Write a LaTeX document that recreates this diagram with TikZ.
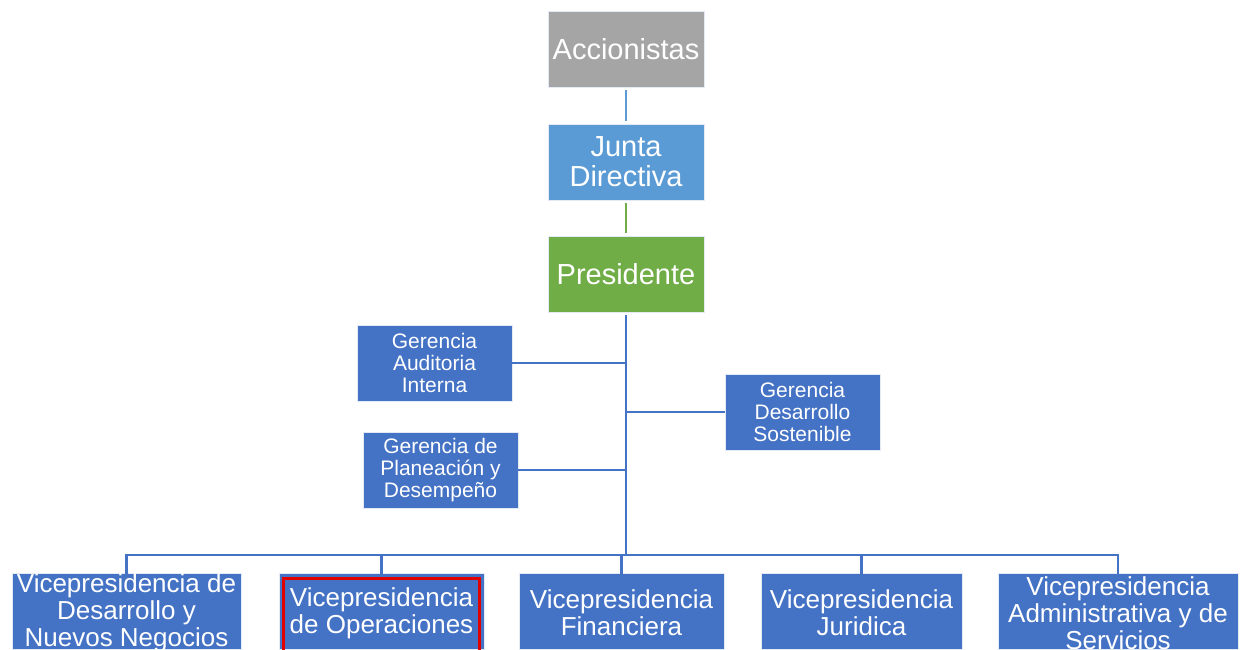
\documentclass[tikz,border=0pt]{standalone}
\usepackage{fontspec}
\setmainfont{Liberation Sans}
\definecolor{gbox}{HTML}{A5A5A5}
\definecolor{lbox}{HTML}{5B9BD5}
\definecolor{grbox}{HTML}{70AD47}
\definecolor{bbox}{HTML}{4472C4}
\definecolor{redb}{HTML}{E00000}
\begin{document}
\begin{tikzpicture}[x=1pt,y=-1pt,
  box/.style={rectangle, draw=white!85!bbox, line width=0.6pt, text=white, align=center, inner sep=0pt, minimum height=76pt},
  topbox/.style={box, minimum width=156pt, font=\fontsize{29}{30}\selectfont},
  gerbox/.style={box, fill=bbox, minimum width=155pt, font=\fontsize{21}{22}\selectfont},
  vpbox/.style={box, fill=bbox, font=\fontsize{26}{27}\selectfont},
  vptext/.style={text=white, align=center, inner sep=0pt, font=\fontsize{26}{27}\selectfont},
  conn/.style={line width=2.2pt, draw=bbox},
]
\useasboundingbox (0,0) rectangle (1250,650);
\fill[white] (0,0) rectangle (1250,650);

% top chain
\node[topbox, fill=gbox] (acc) at (626,49) {Accionistas};
\node[topbox, fill=lbox] (jd) at (626,162) {Junta\\Directiva};
\node[topbox, fill=grbox] (pres) at (626,274) {Presidente};

% gerencias
\node[gerbox] (ga) at (434.5,363) {Gerencia\\Auditoria\\Interna};
\node[gerbox] (gd) at (802.5,412) {Gerencia\\Desarrollo\\Sostenible};
\node[gerbox] (gp) at (440.5,470) {Gerencia de\\Planeación y\\Desempeño};

% vicepresidencias (boxes)
\node[vpbox, minimum width=229pt] (v1) at (126.5,611) {};
\node[vpbox, minimum width=205pt] (v2) at (381.5,611) {};
\node[vpbox, minimum width=205pt] (v3) at (621.5,611) {};
\node[vpbox, minimum width=201pt] (v4) at (861.5,611) {};
\node[vpbox, minimum width=240pt] (v5) at (1118,611) {};

% red highlight on v2
\draw[redb, line width=3pt] (283.5,578.5) rectangle (479.5,652);

% vicepresidencias (texts)
\node[vptext] (v1t) at (126.5,613) {Vicepresidencia de\\Desarrollo y\\Nuevos Negocios};
\node[vptext] (v2t) at (381.5,613) {Vicepresidencia\\de Operaciones};
\node[vptext] (v3t) at (621.5,613) {Vicepresidencia\\Financiera};
\node[vptext] (v4t) at (861.5,613) {Vicepresidencia\\Juridica};
\node[vptext] (v5t) at (1118,613) {Vicepresidencia\\Administrativa y de\\Servicios};

% connectors
\draw[line width=2.2pt, draw=lbox, shorten <=3pt, shorten >=3pt] (acc.south) -- (jd.north);
\draw[line width=2.2pt, draw=grbox, shorten <=3pt, shorten >=3pt] (jd.south) -- (pres.north);

\coordinate (busy) at (626,555);
\draw[conn, shorten <=3pt] (pres.south) -- (busy);
\draw[conn] (ga.east) -- (ga.east -| pres.south);
\draw[conn] (gd.west) -- (gd.west -| pres.south);
\draw[conn] (gp.east) -- (gp.east -| pres.south);

\draw[conn] ([yshift=-3pt]v1.north) -- (v1.north |- busy) -- (v5.north |- busy) -- ([yshift=-3pt]v5.north);
\draw[conn] ([yshift=-3pt]v2.north) -- (v2.north |- busy);
\draw[conn] ([yshift=-3pt]v3.north) -- (v3.north |- busy);
\draw[conn] ([yshift=-3pt]v4.north) -- (v4.north |- busy);
\end{tikzpicture}
\end{document}
